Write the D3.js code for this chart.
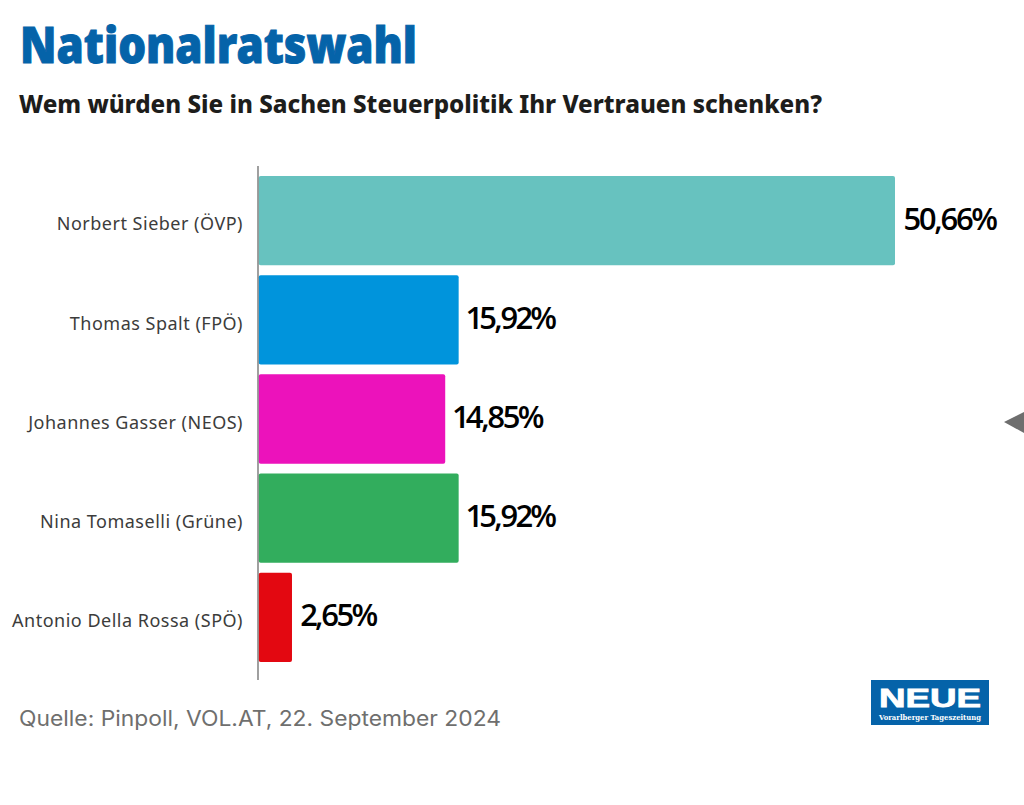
<!DOCTYPE html>
<html>
<head>
<meta charset="utf-8">
<script src="https://cdn.jsdelivr.net/npm/d3@7"></script>
<style>
  html, body { margin: 0; padding: 0; background: #fff; }
  svg { display: block; }
</style>
</head>
<body>
<div id="chart"></div>
<script>
// chart data
const candidates = ["Norbert Sieber (ÖVP)", "Thomas Spalt (FPÖ)", "Johannes Gasser (NEOS)", "Nina Tomaselli (Grüne)", "Antonio Della Rossa (SPÖ)"];
const shares = [50.66, 15.92, 14.85, 15.92, 2.65];
const shareLabels = ["50,66%", "15,92%", "14,85%", "15,92%", "2,65%"];
const barColors = ["#67c2bf", "#0094dc", "#ec12bb", "#32ad5d", "#e30811"];

const width = 1024, height = 805;

const svg = d3.select("#chart").append("svg")
  .attr("width", width)
  .attr("height", height);

// scales
const xScale = d3.scaleLinear().domain([0, 50.66]).range([258.7, 895]);
const yScale = d3.scaleBand().domain(candidates).range([171, 667]).paddingInner(0.1).paddingOuter(0.05);

// headline
svg.append("text")
  .attr("x", 20).attr("y", 63)
  .attr("font-family", "Noto Sans").attr("font-weight", 900).attr("font-size", 49)
  .attr("fill", "#0563a9").attr("stroke", "#0563a9").attr("stroke-width", 1)
  .attr("textLength", 397).attr("lengthAdjust", "spacingAndGlyphs")
  .text("Nationalratswahl");

svg.append("text")
  .attr("x", 19).attr("y", 113)
  .attr("font-family", "Noto Sans").attr("font-weight", 800).attr("font-size", 24)
  .attr("fill", "#1d1d1b")
  .attr("textLength", 803).attr("lengthAdjust", "spacingAndGlyphs")
  .text("Wem würden Sie in Sachen Steuerpolitik Ihr Vertrauen schenken?");

// bars
svg.append("g")
  .selectAll("rect")
  .data(candidates)
  .enter()
  .append("rect")
  .attr("x", xScale(0))
  .attr("y", d => yScale(d))
  .attr("width", (d, i) => xScale(shares[i]) - xScale(0))
  .attr("height", yScale.bandwidth())
  .attr("rx", 2)
  .attr("fill", (d, i) => barColors[i]);

// value labels
svg.append("g")
  .selectAll("text")
  .data(candidates)
  .enter()
  .append("text")
  .attr("x", (d, i) => xScale(shares[i]) + 8.5)
  .attr("y", d => yScale(d) + yScale.bandwidth() / 2 + 9)
  .attr("font-family", "Open Sans").attr("font-weight", 600).attr("font-size", 31)
  .attr("letter-spacing", -2.6)
  .style("font-variant-numeric", "proportional-nums")
  .attr("fill", "#000")
  .text((d, i) => shareLabels[i]);

// category axis
const yAxis = d3.axisLeft(yScale).tickSize(0).tickPadding(15);
const axisG = svg.append("g")
  .attr("transform", `translate(258,4)`)
  .call(yAxis);
axisG.select(".domain").remove();
axisG.selectAll("text")
  .attr("font-family", "Noto Sans").attr("font-size", 18)
  .attr("letter-spacing", 0.5)
  .attr("fill", "#3c3c3b");

svg.append("line")
  .attr("x1", 258).attr("x2", 258)
  .attr("y1", 166).attr("y2", 680)
  .attr("stroke", "#777").attr("stroke-width", 1.4);

// source
svg.append("text")
  .attr("x", 19).attr("y", 726)
  .attr("font-family", "Inter").attr("font-size", 21)
  .attr("fill", "#6f6f6e")
  .attr("textLength", 482).attr("lengthAdjust", "spacingAndGlyphs")
  .text("Quelle: Pinpoll, VOL.AT, 22. September 2024");

// logo
const logo = svg.append("g").attr("transform", "translate(871,680)");
logo.append("rect").attr("width", 118).attr("height", 45).attr("fill", "#0563a9");
logo.append("text")
  .attr("x", 59).attr("y", 27)
  .attr("text-anchor", "middle")
  .attr("font-family", "Liberation Sans").attr("font-weight", 700).attr("font-size", 26)
  .attr("fill", "#fff").attr("stroke", "#fff").attr("stroke-width", 0.8)
  .attr("textLength", 102).attr("lengthAdjust", "spacingAndGlyphs")
  .text("NEUE");
logo.append("text")
  .attr("x", 59).attr("y", 40)
  .attr("text-anchor", "middle")
  .attr("font-family", "DejaVu Serif").attr("font-weight", 700).attr("font-size", 8)
  .attr("fill", "#fff")
  .attr("textLength", 102).attr("lengthAdjust", "spacingAndGlyphs")
  .text("Vorarlberger Tageszeitung");

// gray arrow at right edge
svg.append("path")
  .attr("d", d3.line()([[1004, 422], [1024, 412], [1024, 433]]) + "Z")
  .attr("fill", "#6e6e6e");
</script>
</body>
</html>
